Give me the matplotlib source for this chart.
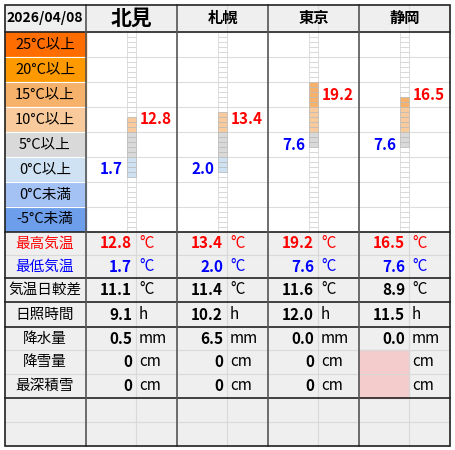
import math
import matplotlib
matplotlib.use("Agg")
import matplotlib.pyplot as plt
from matplotlib.patches import Rectangle

plt.rcParams['font.family'] = ['Noto Sans CJK JP', 'DejaVu Sans']

date_label = "2026/04/08"
cities = ["北見", "札幌", "東京", "静岡"]
t_max = [12.8, 13.4, 19.2, 16.5]
t_min = [1.7, 2.0, 7.6, 7.6]
t_range = [11.1, 11.4, 11.6, 8.9]
sunshine = [9.1, 10.2, 12.0, 11.5]
precip = [0.5, 6.5, 0.0, 0.0]
snowfall = [0, 0, 0, None]
snow_depth = [0, 0, 0, None]

band_labels = ["25°C以上", "20°C以上", "15°C以上", "10°C以上", "5°C以上", "0°C以上", "0°C未満", "-5°C未満"]
band_lows = [25, 20, 15, 10, 5, 0, -5, -10]
band_colors = ["#ff6d01", "#ff9900", "#f6b26b", "#f9cb9c", "#d9d9d9", "#cfe2f3", "#a4c2f4", "#6d9eeb"]

fig = plt.figure(figsize=(4.55, 4.5), dpi=100)
ax = fig.add_axes([0, 0, 1, 1])
ax.set_xlim(0, 455)
ax.set_ylim(450, 0)
ax.axis("off")

L, R = 5, 450
col_x = [86, 177, 268, 359, 450]
top, head_b = 5, 32
band_h = 25
zero_y = head_b + band_h * 6  # 182
scale = 5  # px per degree

def ty(t):
    return zero_y - scale * t

bold = dict(fontweight="bold")
# header
ax.add_patch(Rectangle((L, top), R - L, head_b - top, color="#efefef", zorder=0))
ax.text(45, 18, date_label, ha="center", va="center", fontsize=10, **bold)
for i, c in enumerate(cities):
    ax.text((col_x[i] + col_x[i + 1]) / 2, 18, c, ha="center", va="center",
            fontsize=15 if i == 0 else 11, **bold)

# bands
for k, (lab, col) in enumerate(zip(band_labels, band_colors)):
    y0 = head_b + k * band_h
    ax.add_patch(Rectangle((L, y0), 81, band_h, color=col, zorder=0))
    ax.text(45, y0 + band_h / 2, lab, ha="center", va="center", fontsize=10.5)
    ax.plot([86, R], [y0 + band_h, y0 + band_h], color="#dddddd", lw=0.8, zorder=1)
    ax.plot([L, 86], [y0 + band_h, y0 + band_h], color="#ffffff", lw=0.8, zorder=1)

def band_index(t):
    for k, lo in enumerate(band_lows):
        if t >= lo:
            return k
    return len(band_lows) - 1

for i in range(4):
    bx = col_x[i] + 41
    # empty ladder
    for d in range(-10, 30):
        ax.add_patch(Rectangle((bx, ty(d + 1)), 9, scale, facecolor="white",
                               edgecolor="#d0d0d0", lw=0.5, zorder=2))
    lo, hi = math.floor(t_min[i]), math.ceil(t_max[i])
    for d in range(lo, hi):
        col = band_colors[band_index(d)]
        ax.add_patch(Rectangle((bx, ty(d + 1)), 9, scale, facecolor=col,
                               edgecolor="#bbbbbb", lw=0.5, zorder=3))
    kx = band_index(t_max[i])
    ax.text(bx + 13, head_b + kx * band_h + band_h / 2, f"{t_max[i]:.1f}", color="red",
            ha="left", va="center", fontsize=11, **bold)
    kn = band_index(t_min[i])
    ax.text(bx - 4, head_b + kn * band_h + band_h / 2, f"{t_min[i]:.1f}", color="blue",
            ha="right", va="center", fontsize=11, **bold)

# data rows
row_tops = [232, 255, 278, 302, 327, 350, 374, 398, 422, 446]
ax.add_patch(Rectangle((L, 232), R - L, 446 - 232, color="#efefef", zorder=0))
rows = [
    ("最高気温", "red", t_max, "°C", "{:.1f}"),
    ("最低気温", "blue", t_min, "°C", "{:.1f}"),
    ("気温日較差", "black", t_range, "°C", "{:.1f}"),
    ("日照時間", "black", sunshine, "h", "{:.1f}"),
    ("降水量", "black", precip, "mm", "{:.1f}"),
    ("降雪量", "black", snowfall, "cm", "{}"),
    ("最深積雪", "black", snow_depth, "cm", "{}"),
]
for r, (lab, col, vals, unit, fmt) in enumerate(rows):
    y0, y1 = row_tops[r], row_tops[r + 1]
    yc = (y0 + y1) / 2
    ax.text(45, yc, lab, ha="center", va="center", fontsize=10.5, color=col)
    for i in range(4):
        cx = col_x[i]
        if vals[i] is None:
            ax.add_patch(Rectangle((cx, y0), 50, y1 - y0, color="#f4cccc", zorder=1))
        else:
            ax.text(cx + 46, yc, fmt.format(vals[i]), ha="right", va="center",
                    fontsize=11, color=col, **bold)
        ax.text(cx + 53, yc, unit, ha="left", va="center", fontsize=11,
                color="red" if col == "red" else ("blue" if col == "blue" else "black"))

# thin lines
for y in [255, 350, 374, 422]:
    ax.plot([L, R], [y, y], color="#d9d9d9", lw=0.8, zorder=2)
for i in range(4):
    ax.plot([col_x[i] + 50] * 2, [232, 446], color="#d9d9d9", lw=0.8, zorder=2)
    ax.plot([col_x[i] + 50] * 2, [top, head_b], color="#d9d9d9", lw=0.8, zorder=2)
# thick lines
for y in [head_b, 232, 278, 302, 327, 398]:
    ax.plot([L, R], [y, y], color="#222222", lw=1.2, zorder=4)
for x in col_x[:-1]:
    ax.plot([x, x], [top, 446], color="#555555", lw=1.2, zorder=4)
ax.add_patch(Rectangle((L, top), R - L, 446 - top, fill=False, edgecolor="#222222", lw=1.2, zorder=5))

fig.savefig("out.png", dpi=100)
